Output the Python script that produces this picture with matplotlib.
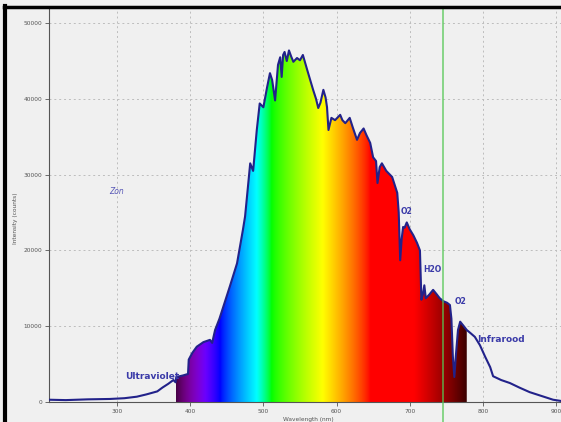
import numpy as np
import matplotlib
matplotlib.use('Agg')
import matplotlib.pyplot as plt
from matplotlib.lines import Line2D

# spectrum: wavelength (nm) -> intensity (counts)
wavelength = [207, 230, 260, 290, 310, 327, 340, 355, 362, 370, 377, 380, 381, 390, 397,
              398, 403, 409, 418, 427, 430, 434, 440, 445, 454, 464, 472, 475, 482, 486,
              491, 495, 500, 505, 509, 512, 516, 520, 523, 525, 527, 529, 532, 535, 538,
              541, 546, 550, 554, 560, 564, 568, 572, 575, 578, 582, 585, 587, 589, 593,
              598, 605, 608, 612, 618, 622, 628, 632, 637, 641, 646, 650, 654, 656, 659,
              662, 668, 676, 683, 685, 687, 689, 691, 693, 696, 700, 705, 710, 714, 716,
              718, 720, 722, 727, 732, 737, 741, 746, 751, 755, 757, 759, 761, 763, 766,
              769, 774, 778, 783, 789, 796, 803, 810, 814, 825, 837, 850, 864, 880, 896, 906]
counts = [300, 250, 350, 400, 500, 700, 1000, 1400, 1900, 2400, 2900, 2600, 3300, 3500, 3700,
          5600, 6500, 7300, 7900, 8200, 7800, 9500, 11000, 12500, 15200, 18300, 22700, 24500, 31500, 30500,
          35900, 39400, 38900, 41500, 43400, 42500, 39800, 44500, 45500, 42900, 45800, 46200, 45000, 46400, 45600,
          44900, 45400, 45100, 45800, 43800, 42500, 41200, 40000, 38800, 39500, 41200, 40200, 38900, 35900, 37500,
          37200, 37900, 37200, 36800, 37500, 36300, 34600, 35500, 36100, 35200, 34200, 32300, 31800, 28900, 31000,
          31500, 30500, 29700, 27600, 25000, 18700, 21500, 23100, 23000, 23700, 22800, 22000, 21000, 20000, 13500,
          14200, 15400, 13700, 14200, 14800, 14200, 13700, 13300, 13100, 12800, 11000, 6000, 3300, 6000, 9500,
          10600, 10000, 9500, 9100, 8600, 7500, 6000, 4600, 3400, 2900, 2500, 1900, 1300, 800, 300, 150]

fill_range = (380, 778)
marker_wl = 746

x_ticks = [300, 400, 500, 600, 700, 800, 900]
y_ticks = [0, 10000, 20000, 30000, 40000, 50000]

labels = [('Ultraviolet', 311, 3400, 6.5), ('O2', 687, 25200, 5.5), ('H2O', 718, 17500, 5.5),
          ('O2', 761, 13200, 5.5), ('Infrarood', 792, 8300, 6.5)]


def wl_to_rgb(w):
    # rough visible-light colour for a wavelength
    if w < 440:
        r, g, b = (440 - w) / 60, 0.0, 1.0
    elif w < 490:
        r, g, b = 0.0, (w - 440) / 50, 1.0
    elif w < 510:
        r, g, b = 0.0, 1.0, (510 - w) / 20
    elif w < 580:
        r, g, b = (w - 510) / 70, 1.0, 0.0
    elif w < 645:
        r, g, b = 1.0, (645 - w) / 65, 0.0
    else:
        r, g, b = 1.0, 0.0, 0.0
    if w < 420:
        f = 0.2 + 0.8 * (w - 380) / 40
    elif w > 705:
        f = 0.12 + 0.88 * (780 - w) / 75
    else:
        f = 1.0
    f = max(min(f, 1.0), 0.0)
    return [(c * f) ** 0.8 if c > 0 else 0.0 for c in (r, g, b)]


bg = '#f0f0f0'
fig = plt.figure(figsize=(5.61, 4.22), dpi=100, facecolor=bg)
ax = fig.add_axes([49 / 561, 20 / 422, 512 / 561, 394 / 422])
ax.set_facecolor(bg)

xmin, xmax = 207, 906.8
ymin, ymax = 0, 52000
ax.set_xlim(xmin, xmax)
ax.set_ylim(ymin, ymax)

# gradient fill under the curve
wl = np.array(wavelength, dtype=float)
ct = np.array(counts, dtype=float)
cols = np.linspace(fill_range[0], fill_range[1], 400)
grad = np.array([[wl_to_rgb(w) for w in cols]])
im = ax.imshow(grad, extent=[fill_range[0], fill_range[1], 0, ymax], aspect='auto',
               interpolation='bilinear', zorder=2)
m = (wl >= fill_range[0]) & (wl <= fill_range[1])
poly = ax.fill_between(wl[m], 0, ct[m], facecolor='none', edgecolor='none')
clip = poly.get_paths()[0]
im.set_clip_path(clip, transform=ax.transData)

ax.plot(wl, ct, color='#22228a', lw=1.5, zorder=4)

ax.axvline(marker_wl, ymin=-0.06, ymax=1, color='#55c855', alpha=0.85, lw=1.1,
           clip_on=False, zorder=5)

ax.grid(True, color='#bdbdbd', linestyle=(0, (2, 3)), lw=0.7)
ax.set_axisbelow(True)
ax.set_xticks(x_ticks)
ax.set_yticks(y_ticks)
ax.tick_params(labelsize=4.2, labelcolor='#555555', length=3, width=0.6, color='#555555', pad=2)
for s in ['top', 'right']:
    ax.spines[s].set_visible(False)
ax.spines['left'].set_color('#555555')
ax.spines['bottom'].set_color('#555555')
ax.spines['left'].set_linewidth(0.8)
ax.spines['bottom'].set_linewidth(0.8)

for txt, x, y, fs in labels:
    ax.text(x, y, txt, fontsize=fs, fontweight='bold', color='#3a3aa8', ha='left', va='center', zorder=6)
ax.text(299, 27800, 'Zon', fontsize=5.5, style='italic', color='#5a5ab8', ha='center', va='center')

fig.text(16 / 561, 1 - 218 / 422, 'Intensity (counts)', rotation=90, fontsize=4.2,
         color='#555555', ha='center', va='center')
fig.text(308 / 561, 1 - 419 / 422, 'Wavelength (nm)', fontsize=4.2, color='#555555',
         ha='center', va='center')

# black frame on the left and top
fig.add_artist(Line2D([5 / 561, 5 / 561], [0, 1 - 6 / 422], transform=fig.transFigure,
                      color='black', lw=3))
fig.add_artist(Line2D([4 / 561, 1], [1 - 6.5 / 422, 1 - 6.5 / 422], transform=fig.transFigure,
                      color='black', lw=2.5))

fig.savefig('out.png', dpi=100, facecolor=bg)
